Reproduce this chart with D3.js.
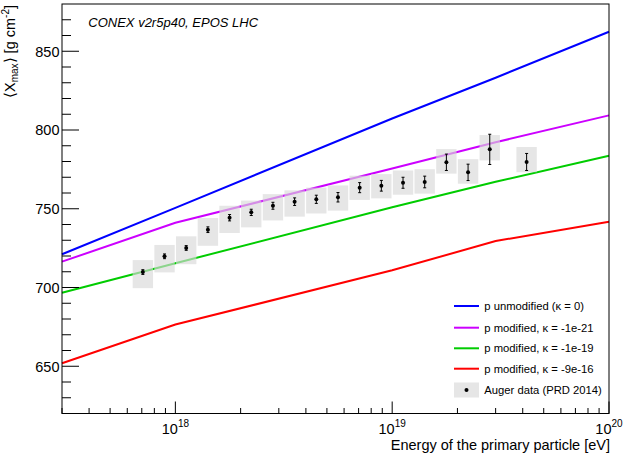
<!DOCTYPE html>
<html>
<head>
<meta charset="utf-8">
<script src="https://cdn.jsdelivr.net/npm/d3@7"></script>
<style>
  body { margin: 0; background: #fff; }
  svg { display: block; font-family: "Liberation Sans", Arial, Helvetica, sans-serif; }
</style>
</head>
<body>
<div id="viz"></div>
<script>
// simulated curves (energy in eV, <Xmax> in g/cm2)
const lineEnergies = [3e17, 1e18, 1e19, 3e19, 1e20];
const pUnmodified = [721.1, 750.6, 807.3, 833.2, 862.4];
const pKappa21 = [716.4, 741.1, 775.5, 792.2, 809.3];
const pKappa19 = [696.7, 715.4, 750.9, 767.1, 783.7];
const pKappa16 = [651.9, 676.5, 710.9, 729.5, 741.8];

const seriesLabels = [
    'p unmodified (κ = 0)',
    'p modified, κ = -1e-21',
    'p modified, κ = -1e-19',
    'p modified, κ = -9e-16',
];
const seriesColors = ['#0000ff', '#cc00ff', '#00cc00', '#ff0000'];

// Auger data (PRD 2014)
const augerLgE = [17.85, 17.95, 18.05, 18.15, 18.25, 18.35, 18.45, 18.55, 18.65,
    18.75, 18.85, 18.95, 19.05, 19.15, 19.25, 19.35, 19.45, 19.62];
const augerXmax = [709.8, 719.8, 725.1, 736.7, 744.3, 747.7, 751.9, 754.5, 756.0,
    757.3, 763.4, 764.6, 766.5, 767.0, 779.5, 773.1, 787.7, 779.7];
const augerStat = [1.5, 1.5, 1.5, 1.8, 2.0, 2.0, 2.2, 2.4, 2.6,
    3.0, 3.2, 3.4, 3.5, 3.7, 5.2, 5.2, 9.6, 5.4];
const augerSysUp = [7.6, 7.2, 7.4, 7.4, 7.6, 7.5, 7.4, 7.2, 7.4,
    7.5, 7.6, 7.4, 7.8, 8.1, 8.4, 8.4, 9.1, 9.5];
const augerSysDown = [10.2, 10.2, 10.3, 10.2, 9.7, 9.5, 9.3, 9.5, 9.0,
    8.5, 7.8, 8.0, 7.6, 7.4, 7.2, 7.2, 7.0, 6.5];

const yMajorTicks = [650, 700, 750, 800, 850];
const xMajorExp = [18, 19, 20];

const W = 623, H = 455;
const plotLeft = 62, plotRight = 609, plotTop = 4, plotBottom = 413.5;
const fontSize = 14.5;

const svg = d3.select('#viz').append('svg')
    .attr('width', W)
    .attr('height', H);

const xScale = d3.scaleLog().domain([3e17, 1e20]).range([plotLeft, plotRight]);
const yScale = d3.scaleLinear().domain([620, 880]).range([plotBottom, plotTop]);

// curves
const line = d3.line()
    .x((d) => xScale(d[0]))
    .y((d) => yScale(d[1]));

const allSeries = [pUnmodified, pKappa21, pKappa19, pKappa16];
svg.append('g')
    .selectAll('path')
    .data(allSeries)
    .join('path')
    .attr('d', (vals) => line(vals.map((v, i) => [lineEnergies[i], v])))
    .attr('fill', 'none')
    .attr('stroke', (d, i) => seriesColors[i])
    .attr('stroke-width', 2);

// auger systematic boxes
const boxHalf = 0.047;
const auger = augerLgE.map((lg, i) => ({
    lg: lg,
    x: augerXmax[i],
    stat: augerStat[i],
    up: augerSysUp[i],
    down: augerSysDown[i],
}));

const data = svg.append('g').attr('id', 'auger');
data.selectAll('rect')
    .data(auger)
    .join('rect')
    .attr('x', (d) => xScale(Math.pow(10, d.lg - boxHalf)))
    .attr('width', (d) => xScale(Math.pow(10, d.lg + boxHalf)) - xScale(Math.pow(10, d.lg - boxHalf)))
    .attr('y', (d) => yScale(d.x + d.up))
    .attr('height', (d) => yScale(d.x - d.down) - yScale(d.x + d.up))
    .attr('fill', '#d9d9d9')
    .attr('fill-opacity', 0.65);

// error bars
const bars = data.selectAll('g.bar')
    .data(auger)
    .join('g')
    .attr('class', 'bar')
    .attr('stroke', 'black')
    .attr('stroke-width', 1);
bars.append('line')
    .attr('x1', (d) => xScale(Math.pow(10, d.lg)))
    .attr('x2', (d) => xScale(Math.pow(10, d.lg)))
    .attr('y1', (d) => yScale(d.x + d.stat))
    .attr('y2', (d) => yScale(d.x - d.stat));
[1, -1].forEach((s) => {
    bars.append('line')
        .attr('x1', (d) => xScale(Math.pow(10, d.lg)) - 1.5)
        .attr('x2', (d) => xScale(Math.pow(10, d.lg)) + 1.5)
        .attr('y1', (d) => yScale(d.x + s * d.stat))
        .attr('y2', (d) => yScale(d.x + s * d.stat));
});
data.selectAll('circle')
    .data(auger)
    .join('circle')
    .attr('cx', (d) => xScale(Math.pow(10, d.lg)))
    .attr('cy', (d) => yScale(d.x))
    .attr('r', 2)
    .attr('fill', 'black');

// frame
svg.append('rect')
    .attr('x', plotLeft)
    .attr('y', plotTop)
    .attr('width', plotRight - plotLeft)
    .attr('height', plotBottom - plotTop)
    .attr('fill', 'none')
    .attr('stroke', 'black')
    .attr('stroke-width', 1);

// y axis ticks
const yTicks = svg.append('g').attr('id', 'y-ticks').attr('stroke', 'black');
d3.range(630, 880, 10).forEach((v) => {
    const major = yMajorTicks.includes(v);
    yTicks.append('line')
        .attr('x1', plotLeft)
        .attr('x2', plotLeft + (major ? 17 : 9))
        .attr('y1', yScale(v))
        .attr('y2', yScale(v));
});
svg.append('g')
    .selectAll('text')
    .data(yMajorTicks)
    .join('text')
    .attr('x', plotLeft - 2.5)
    .attr('y', (d) => yScale(d) + 5.3)
    .attr('text-anchor', 'end')
    .attr('font-size', fontSize)
    .text((d) => d);

// x axis ticks
const xTicks = svg.append('g').attr('id', 'x-ticks').attr('stroke', 'black');
xScale.ticks().forEach((v) => {
    const e = Math.log10(v);
    const major = Math.abs(e - Math.round(e)) < 1e-9;
    xTicks.append('line')
        .attr('x1', xScale(v))
        .attr('x2', xScale(v))
        .attr('y1', plotBottom)
        .attr('y2', plotBottom - (major ? 12 : 5.5));
});
const xLabels = svg.append('g');
xMajorExp.forEach((e) => {
    const t = xLabels.append('text')
        .attr('x', xScale(Math.pow(10, e)))
        .attr('y', 434)
        .attr('text-anchor', 'middle')
        .attr('font-size', fontSize);
    t.append('tspan').text('10');
    t.append('tspan').attr('dy', -7).attr('font-size', 10).text(e);
});

// axis titles
svg.append('text')
    .attr('x', 610)
    .attr('y', 450)
    .attr('text-anchor', 'end')
    .attr('font-size', fontSize)
    .text('Energy of the primary particle [eV]');

const yTitle = svg.append('text')
    .attr('transform', `translate(14.5, ${plotTop + 1}) rotate(-90)`)
    .attr('text-anchor', 'end')
    .attr('font-size', fontSize);
yTitle.append('tspan').text('⟨X');
yTitle.append('tspan').attr('dy', 3.5).attr('font-size', 10).text('max');
yTitle.append('tspan').attr('dy', -3.5).text('⟩ [g cm');
yTitle.append('tspan').attr('dy', -6).attr('font-size', 10).text('-2');
yTitle.append('tspan').attr('dy', 6).text(']');

// model label
svg.append('text')
    .attr('x', 88.3)
    .attr('y', 26.7)
    .attr('font-size', 13)
    .attr('font-style', 'italic')
    .text('CONEX v2r5p40, EPOS LHC');

// legend
const legend = svg.append('g').attr('id', 'legend');
const legendY = [306, 327.7, 348.3, 368.7, 390];
seriesLabels.forEach((label, i) => {
    legend.append('line')
        .attr('x1', 454)
        .attr('x2', 479)
        .attr('y1', legendY[i])
        .attr('y2', legendY[i])
        .attr('stroke', seriesColors[i])
        .attr('stroke-width', 2);
    legend.append('text')
        .attr('x', 484.3)
        .attr('y', legendY[i])
        .attr('dy', '0.36em')
        .attr('font-size', 11.25)
        .text(label);
});
legend.append('rect')
    .attr('x', 454)
    .attr('y', legendY[4] - 7.5)
    .attr('width', 25)
    .attr('height', 15)
    .attr('fill', '#e6e6e6');
legend.append('circle')
    .attr('cx', 466.5)
    .attr('cy', legendY[4])
    .attr('r', 2)
    .attr('fill', 'black');
legend.append('text')
    .attr('x', 484.3)
    .attr('y', legendY[4])
    .attr('dy', '0.36em')
    .attr('font-size', 11.25)
    .text('Auger data (PRD 2014)');
</script>
</body>
</html>
